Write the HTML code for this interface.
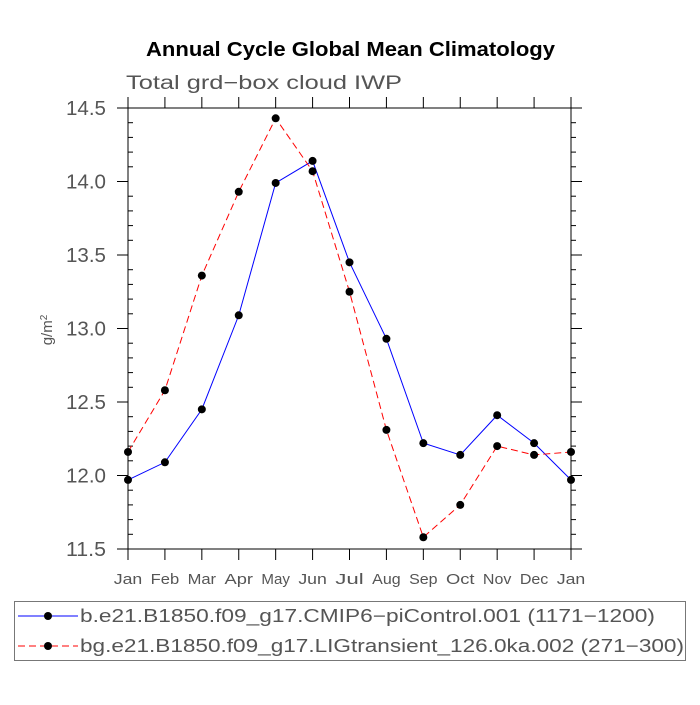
<!DOCTYPE html>
<html><head><meta charset="utf-8"><style>
body{margin:0;background:#fff;}
svg text{font-family:"Liberation Sans",sans-serif;}
</style></head><body>
<svg id="c" width="700" height="700" xmlns="http://www.w3.org/2000/svg">
<text x="146" y="56" font-size="20" font-weight="bold" textLength="409" lengthAdjust="spacingAndGlyphs">Annual Cycle Global Mean Climatology</text>
<text x="126" y="89" font-size="19" fill="#555" textLength="276" lengthAdjust="spacingAndGlyphs">Total grd−box cloud IWP</text>
<text transform="translate(52,330) rotate(-90)" text-anchor="middle" font-size="15" fill="#555">g/m<tspan dy="-5" font-size="10">2</tspan></text>
<g id="axes"></g>
<g id="series"></g>
<g>
<rect x="14.5" y="601.5" width="671" height="59" fill="none" stroke="#777"/>
<line x1="18" y1="616" x2="78" y2="616" stroke="#00f"/>
<circle cx="48" cy="616" r="4" fill="#000"/>
<text x="80" y="622" font-size="18" fill="#555" textLength="575" lengthAdjust="spacingAndGlyphs">b.e21.B1850.f09_g17.CMIP6−piControl.001 (1171−1200)</text>
<line x1="18" y1="646" x2="78" y2="646" stroke="#f00" stroke-dasharray="7,4"/>
<circle cx="48" cy="646" r="4" fill="#000"/>
<text x="80" y="652" font-size="18" fill="#555" textLength="604" lengthAdjust="spacingAndGlyphs">bg.e21.B1850.f09_g17.LIGtransient_126.0ka.002 (271−300)</text>
</g>
</svg>
<script>
const months=["Jan","Feb","Mar","Apr","May","Jun","Jul","Aug","Sep","Oct","Nov","Dec","Jan"];
const piControl=[11.97,12.09,12.45,13.09,13.99,14.14,13.45,12.93,12.22,12.14,12.41,12.22,11.97];
const ligTransient=[12.16,12.58,13.36,13.93,14.43,14.07,13.25,12.31,11.58,11.80,12.20,12.14,12.16];
const yTicks=["11.5","12.0","12.5","13.0","13.5","14.0","14.5"];
const NS="http://www.w3.org/2000/svg";
const L=128,R=571,T=108,B=549,step=(R-L)/12;
const x=i=>L+i*step;
const y=v=>B-(v-11.5)/3*(B-T);
function mk(t,a,p){const e=document.createElementNS(NS,t);for(const k in a)e.setAttribute(k,a[k]);p.appendChild(e);return e;}
const ax=document.getElementById('axes');
const frame=mk('rect',{x:L,y:T,width:R-L,height:B-T,fill:'none',stroke:'#000'},ax);


mk('line',{x1:L-11,y1:T,x2:R+11,y2:T,stroke:'#000'},ax);
mk('line',{x1:L-11,y1:B,x2:R+11,y2:B,stroke:'#000'},ax);
months.forEach((m,i)=>{
 mk('line',{x1:x(i),y1:B,x2:x(i),y2:B+11,stroke:'#000'},ax);
 mk('line',{x1:x(i),y1:T,x2:x(i),y2:T-11,stroke:'#000'},ax);
 const t=mk('text',{x:x(i),y:B+35,'text-anchor':'middle','font-size':15,fill:'#555',textLength:m.length*9.5,lengthAdjust:'spacingAndGlyphs'},ax);
 t.textContent=m;
 
 
});
yTicks.forEach((s,i)=>{
 const v=parseFloat(s),yy=y(v);
 mk('line',{x1:L-11,y1:yy,x2:L,y2:yy,stroke:'#000'},ax);
 mk('line',{x1:R,y1:yy,x2:R+11,y2:yy,stroke:'#000'},ax);
 const t=mk('text',{x:106,y:yy+7,'text-anchor':'end','font-size':20,fill:'#555',textLength:40,lengthAdjust:'spacingAndGlyphs'},ax);
 t.textContent=s;
 
 
 if(i<yTicks.length-1)for(let k=1;k<5;k++){const my=y(v+k*0.1);
  mk('line',{x1:L,y1:my,x2:L+5,y2:my,stroke:'#000'},ax);
  mk('line',{x1:R,y1:my,x2:R+5,y2:my,stroke:'#000'},ax);}
});
const sg=document.getElementById('series');
function series(d,col,dash,name){
 const pl=mk('polyline',{points:d.map((v,i)=>x(i)+','+y(v)).join(' '),fill:'none',stroke:col,'stroke-dasharray':dash},sg);
 
 
 d.forEach((v,i)=>{const c=mk('circle',{cx:x(i),cy:y(v),r:4,fill:'#000'},sg);
  
  });
}
series(piControl,'#00f','none','picontrol');
series(ligTransient,'#f00','7,4','ligtransient');
</script>
</body></html>
